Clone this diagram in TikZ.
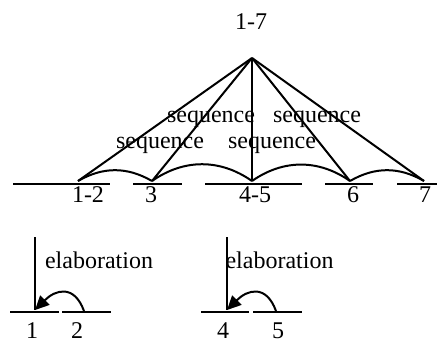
\documentclass[tikz,border=0pt]{standalone}
\usepackage{fontspec}
\setmainfont{Liberation Serif}
\usetikzlibrary{arrows.meta}

\begin{document}
\begin{tikzpicture}[
    x=0.5pt,y=-0.5pt,
    lbl/.style={anchor=base,inner sep=0pt,font=\fontsize{12}{14}\selectfont},
    span/.style={line width=1pt},
    edge/.style={line width=1pt},
    rel/.style={line width=1pt},
    relarrow/.style={-{Triangle[length=7pt,width=6.5pt]},line width=1pt}
  ]
    \useasboundingbox (0,0) rectangle (437,342);
    % Root
    \coordinate (root) at (252,58);
    \node[lbl] (r17) at (251,30) {1-7};
    % Level 1 spans
    \foreach \n/\a/\b/\x/\lx/\lab in {s12/13/110/78/88/1-2, s3/133/182/152/151/3,
        s45/205/302/252/255/4-5, s6/325/373/350/353/6, s7/397/437/424/425/7} {
      \draw[span] (\a,184) -- (\b,184);
      \coordinate (\n) at (\x,181);
      \node[lbl] (t\n) at (\lx,202) {\lab};
      \draw[edge] (root) -- (\n);
    }
    % Sequence relations
    \draw[rel] (s12) to[out=30,in=150] (s3);
    \draw[rel] (s3) to[out=35,in=145] (s45);
    \draw[rel] (s45) to[out=35,in=145] (s6);
    \draw[rel] (s6) to[out=30,in=150] (s7);
    \node[lbl] (q1) at (211,122) {sequence};
    \node[lbl] (q2) at (317,122) {sequence};
    \node[lbl] (q3) at (160,148) {sequence};
    \node[lbl] (q4) at (272,148) {sequence};
    % Level 0 spans
    \foreach \a/\b/\x/\lab in {10/59/32/1, 62/111/77/2, 201/249/223/4, 253/302/278/5} {
      \draw[span] (\a,312) -- (\b,312);
      \node[lbl] (b\lab) at (\x,338.5) {\lab};
    }
    % Elaborations
    \coordinate (h12) at (35,237);
    \coordinate (n1) at (35,310);
    \coordinate (n2) at (84,311);
    \draw[edge] (h12) -- (n1);
    \draw[relarrow] (n2) to[out=110,in=45,looseness=1.5] (n1);
    \node[lbl] (e12) at (99,268) {elaboration};
    \coordinate (h45) at (227,237);
    \coordinate (n4) at (227,310);
    \coordinate (n5) at (276,311);
    \draw[edge] (h45) -- (n4);
    \draw[relarrow] (n5) to[out=110,in=45,looseness=1.5] (n4);
    \node[lbl] (e45) at (279.5,268) {elaboration};
  \end{tikzpicture}
\end{document}
